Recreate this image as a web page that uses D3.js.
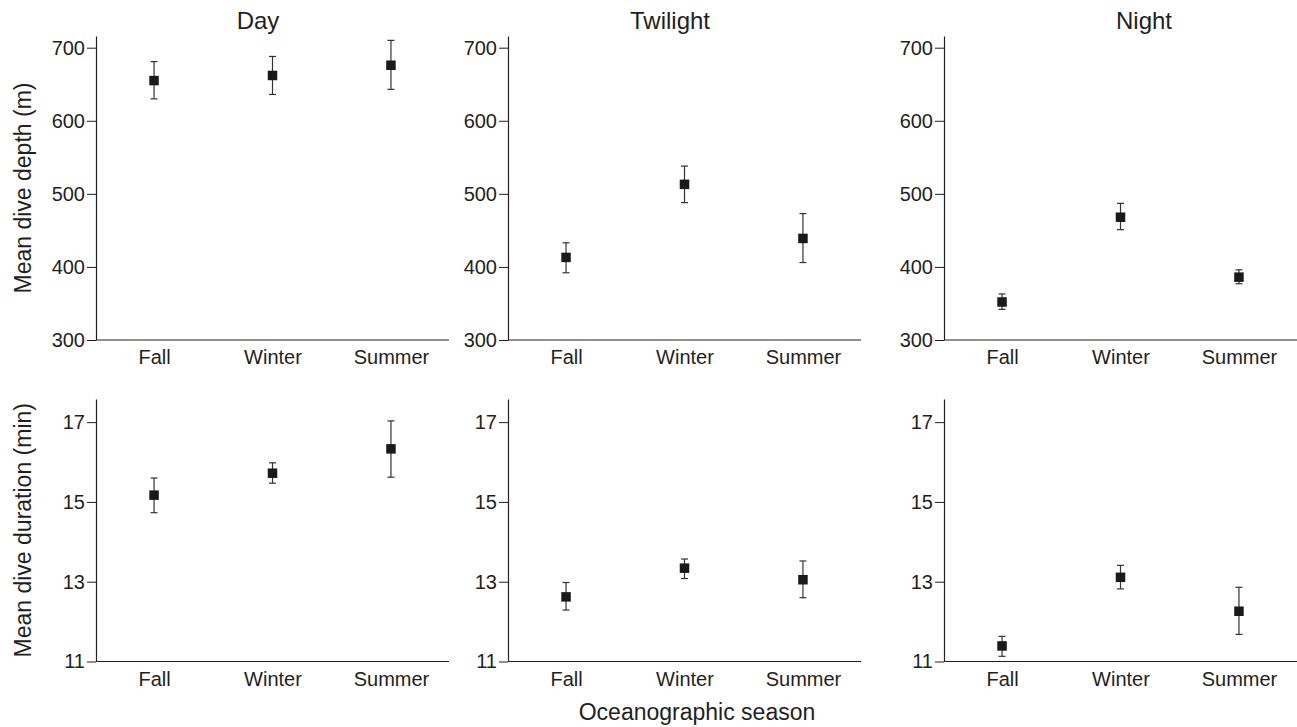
<!DOCTYPE html>
<html>
<head>
<meta charset="utf-8">
<script src="https://cdn.jsdelivr.net/npm/d3@7"></script>
<style>
  html, body { margin: 0; padding: 0; background: #fff; }
  svg text { font-family: "Liberation Sans", Arial, Helvetica, sans-serif; fill: #231f20; }
</style>
</head>
<body>
<div id="chart"></div>
<script>
// chart values
const periods = ['Day', 'Twilight', 'Night'];
const seasons = ['Fall', 'Winter', 'Summer'];

// mean dive depth (m), with lower / upper error bar ends, one row per period
const depthMean = [[655, 662, 676], [413, 513, 439], [352, 468, 386]];
const depthLow = [[630, 636, 643], [392, 488, 406], [342, 451, 377]];
const depthHigh = [[681, 688, 710], [433, 538, 473], [363, 487, 396]];

// mean dive duration (min)
const durMean = [[15.17, 15.72, 16.33], [12.62, 13.34, 13.05], [11.39, 13.11, 12.26]];
const durLow = [[14.73, 15.47, 15.62], [12.29, 13.08, 12.6], [11.13, 12.82, 11.68]];
const durHigh = [[15.6, 15.98, 17.03], [12.98, 13.57, 13.52], [11.63, 13.41, 12.86]];

const depthTicks = [300, 400, 500, 600, 700];
const durTicks = [11, 13, 15, 17];

const w = 1297;
const h = 727;
const ink = '#231f20';

const svg = d3.select('#chart')
  .append('svg')
  .attr('width', w)
  .attr('height', h);

// panel layout
const panelLeft = [96, 508, 944];
const panelW = 353;
const titleOffset = [162, 162, 200];
const rows = [
  { top: 36, bottom: 340, domain: [300, 716], ticks: depthTicks, mean: depthMean, lo: depthLow, hi: depthHigh, label: 'Mean dive depth (m)' },
  { top: 399, bottom: 661.5, domain: [11, 17.58], ticks: durTicks, mean: durMean, lo: durLow, hi: durHigh, label: 'Mean dive duration (min)' }
];

rows.forEach((row, r) => {
  const yScale = d3.scaleLinear()
    .domain(row.domain)
    .range([row.bottom, row.top]);

  periods.forEach((p, c) => {
    const x0 = panelLeft[c];
    const xScale = d3.scalePoint()
      .domain(seasons)
      .range([x0, x0 + panelW])
      .padding(0.49);

    const g = svg.append('g');

    // y axis
    const yAxis = d3.axisLeft(yScale)
      .tickValues(row.ticks)
      .tickFormat(d3.format('d'))
      .tickSize(9)
      .tickPadding(2)
      .tickSizeOuter(0);
    const ya = g.append('g')
      .attr('transform', 'translate(' + x0 + ',0)')
      .call(yAxis);
    ya.select('.domain').attr('stroke', ink).attr('stroke-width', 1.2);
    ya.selectAll('.tick line').attr('stroke', ink).attr('stroke-width', 1);
    ya.selectAll('.tick text').attr('font-size', 20).attr('fill', ink)
      .style('font-family', '"Liberation Sans", Arial, sans-serif');

    // x axis
    const xAxis = d3.axisBottom(xScale)
      .tickSize(0)
      .tickPadding(10)
      .tickSizeOuter(0);
    const xa = g.append('g')
      .attr('transform', 'translate(0,' + row.bottom + ')')
      .call(xAxis);
    xa.select('.domain').attr('stroke', ink).attr('stroke-width', 1.2)
      .attr('d', 'M' + x0 + ',0H' + (x0 + panelW));
    xa.selectAll('.tick text').attr('font-size', 20).attr('fill', ink)
      .style('font-family', '"Liberation Sans", Arial, sans-serif');

    const pts = seasons.map((s, i) => ({
      s: s,
      m: row.mean[c][i],
      lo: row.lo[c][i],
      hi: row.hi[c][i]
    }));

    // error bars
    g.selectAll('line.err')
      .data(pts)
      .enter()
      .append('line')
      .attr('class', 'err')
      .attr('x1', d => xScale(d.s))
      .attr('x2', d => xScale(d.s))
      .attr('y1', d => yScale(d.lo))
      .attr('y2', d => yScale(d.hi))
      .attr('stroke', '#333')
      .attr('stroke-width', 1.2);

    ['lo', 'hi'].forEach(k => {
      g.selectAll('line.cap-' + k)
        .data(pts)
        .enter()
        .append('line')
        .attr('class', 'cap-' + k)
        .attr('x1', d => xScale(d.s) - 3.5)
        .attr('x2', d => xScale(d.s) + 3.5)
        .attr('y1', d => yScale(d[k]))
        .attr('y2', d => yScale(d[k]))
        .attr('stroke', '#333')
        .attr('stroke-width', 1.2);
    });

    // square markers
    g.selectAll('rect.pt')
      .data(pts)
      .enter()
      .append('rect')
      .attr('class', 'pt')
      .attr('x', d => xScale(d.s) - 4.75)
      .attr('y', d => yScale(d.m) - 4.75)
      .attr('width', 9.5)
      .attr('height', 9.5)
      .attr('fill', '#1a1a1a');

    if (r === 0) {
      svg.append('text')
        .attr('x', x0 + titleOffset[c])
        .attr('y', 29)
        .attr('text-anchor', 'middle')
        .attr('font-size', 24)
        .text(p);
    }
  });

  // row label
  svg.append('text')
    .attr('transform', 'translate(31,' + ((row.top + row.bottom) / 2) + ') rotate(-90)')
    .attr('text-anchor', 'middle')
    .attr('font-size', 23)
    .text(row.label);
});

svg.append('text')
  .attr('x', 697)
  .attr('y', 720)
  .attr('text-anchor', 'middle')
  .attr('font-size', 23)
  .text('Oceanographic season');
</script>
</body>
</html>
